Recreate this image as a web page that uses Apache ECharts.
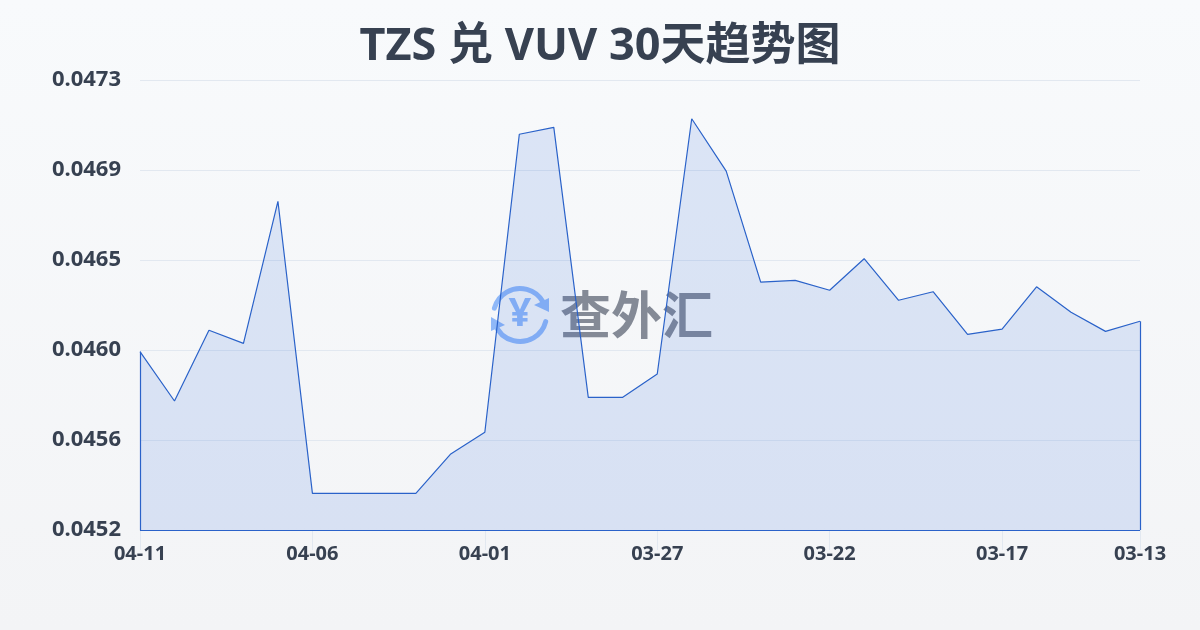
<!DOCTYPE html>
<html><head><meta charset="utf-8">
<style>html,body{margin:0;padding:0;width:1200px;height:630px;overflow:hidden}#c{width:1200px;height:630px}</style>
<script src="https://cdn.jsdelivr.net/npm/echarts@6/dist/echarts.min.js"></script>
</head><body><div id="c"></div>
<script>
const titleText = 'TZS 兑 VUV 30天趋势图';
const categories = ['04-11','04-10','04-09','04-08','04-07','04-06','04-05','04-04','04-03','04-02','04-01','03-31','03-30','03-29','03-28','03-27','03-26','03-25','03-24','03-23','03-22','03-21','03-20','03-19','03-18','03-17','03-16','03-15','03-14','03-13'];
const rates = [0.046032,0.045802,0.046132,0.046071,0.046734,0.045371,0.045371,0.045371,0.045371,0.045553,0.045656,0.047047,0.047079,0.045819,0.045819,0.045928,0.047119,0.046875,0.046357,0.046365,0.046319,0.046466,0.046272,0.046312,0.046113,0.046137,0.046335,0.046216,0.046127,0.046174];
const yTicks = [0.0452,0.04562,0.04604,0.04646,0.04688,0.0473];
const yMin = 0.0452, yMax = 0.0473;
const xLabelIndex = [0,5,10,15,20,25,29];
const F = '"Noto Sans","Noto Sans CJK SC",sans-serif';
const ink = '#374151';
const lineColor = '#2a62c9';
const last = categories.length - 1;
const chart = echarts.init(document.getElementById('c'));
chart.setOption({
  animation:false,
  backgroundColor:new echarts.graphic.LinearGradient(0,0,0,1,[{offset:0,color:'#f8fafc'},{offset:1,color:'#f3f4f6'}]),
  title:{text:titleText,left:'center',top:20,textStyle:{fontFamily:F,fontSize:45,fontWeight:'bold',color:ink}},
  grid:{left:140,right:60,top:80,bottom:100},
  xAxis:{type:'category',boundaryGap:false,data:categories,
    axisLine:{lineStyle:{color:'#e2e8f0'}},
    axisTick:{show:true,alignWithLabel:true,length:20,interval:(i)=>xLabelIndex.includes(i),lineStyle:{color:'#e2e8f0'}},
    axisLabel:{margin:14,interval:(i)=>xLabelIndex.includes(i),showMinLabel:true,showMaxLabel:true,hideOverlap:false,fontFamily:F,fontSize:20,fontWeight:'bold',color:ink},
    splitLine:{show:false}},
  yAxis:{type:'value',min:yMin,max:yMax,
    axisLine:{show:false},
    axisTick:{show:false,customValues:yTicks},
    axisLabel:{customValues:yTicks,margin:19,formatter:v=>v.toFixed(4),fontFamily:F,fontSize:22,fontWeight:'bold',color:ink},
    splitLine:{show:true,lineStyle:{color:'#e2e8f0',width:1}}},
  series:[{type:'line',data:rates,symbol:'none',smooth:false,z:3,
    lineStyle:{color:lineColor,width:1.2},
    areaStyle:{color:'rgba(40,100,215,0.19)',origin:'start'},
    markLine:{silent:true,symbol:'none',label:{show:false},animation:false,
      lineStyle:{color:lineColor,width:1.2,type:'solid'},
      data:[
        [{xAxis:0,yAxis:yMin},{xAxis:0,yAxis:rates[0]}],
        [{xAxis:0,yAxis:yMin},{xAxis:last,yAxis:yMin}],
        [{xAxis:last,yAxis:yMin},{xAxis:last,yAxis:rates[last]}]
      ]}}],
  graphic:[
    {type:'group',z:1,silent:true,children:[
      {type:'arc',shape:{cx:520,cy:315,r:26.5,startAngle:-2.88,endAngle:-0.5},style:{stroke:'#8fb8f8',lineWidth:5,fill:null,lineCap:'round'}},
      {type:'arc',shape:{cx:520,cy:315,r:26.5,startAngle:0.25,endAngle:2.8},style:{stroke:'#8fb8f8',lineWidth:5,fill:null,lineCap:'round'}},
      {type:'polygon',shape:{points:[[549,298],[549,312],[534,305]]},style:{fill:'#8fb8f8'}},
      {type:'polygon',shape:{points:[[491,317],[505,325],[491,331]]},style:{fill:'#8fb8f8'}},
      {type:'text',style:{x:520,y:315,text:'¥',fontFamily:F,fontSize:40,fontWeight:'bold',fill:'#8fb8f8',align:'center',verticalAlign:'middle'}},
      {type:'text',style:{x:560,y:315,text:'查外汇',fontFamily:'"Noto Sans CJK SC"',fontSize:51,fontWeight:'bold',fill:'#848a96',align:'left',verticalAlign:'middle'}}
    ]}
  ]
});
</script></body></html>
